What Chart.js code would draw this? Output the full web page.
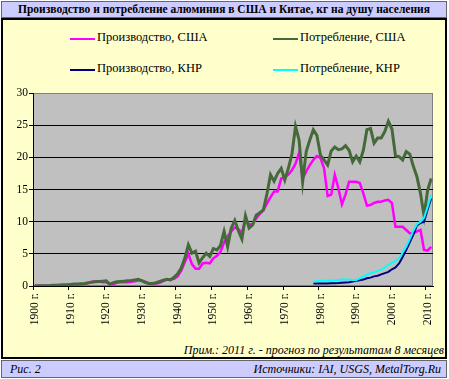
<!DOCTYPE html>
<html>
<head>
<meta charset="utf-8">
<script src="https://cdn.jsdelivr.net/npm/chart.js@4.4.1/dist/chart.umd.min.js"></script>
<style>
  html, body { margin: 0; padding: 0; background: #fff; }
  #wrap { position: relative; width: 449px; height: 379px; overflow: hidden; font-family: "Liberation Serif", "Times New Roman", serif; color: #000; }
  .box { position: absolute; box-sizing: border-box; }
  #title { left: 1px; top: 1px; width: 446px; height: 17px; background: #ccccff; border: 1px solid #666;
           font-weight: bold; font-size: 11.5px; line-height: 15px; text-align: center; white-space: nowrap; }
  #panel { left: 1px; top: 18px; width: 446px; height: 341px; background: #ffffcc; border: 2px solid #000; }
  #foot { left: 1px; top: 360px; width: 446px; height: 18px; background: #ccccff; border: 1px solid #666;
          font-style: italic; font-size: 12px; line-height: 16px; }
  #foot .l { position: absolute; left: 8px; top: 0; }
  #foot .r { position: absolute; right: 5px; top: 0; }
  #note { position: absolute; right: 5px; top: 343px; font-style: italic; font-size: 12px; white-space: nowrap; }
  canvas { position: absolute; left: 0; top: 0; }
  .lg { position: absolute; font-size: 12.5px; white-space: nowrap; }
  .lg i { position: absolute; left: -27px; width: 25px; height: 2px; top: 8px; }
</style>
</head>
<body>
<div id="wrap">
  <div class="box" id="title">Производство и потребление алюминия в США и Китае, кг на душу населения</div>
  <div class="box" id="panel"></div>
  <div id="legend"></div>
  <div id="note">Прим.: 2011 г. - прогноз по результатам 8 месяцев</div>
  <div class="box" id="foot"><span class="l">Рис. 2</span><span class="r">Источники: IAI, USGS, MetalTorg.Ru</span></div>
  <canvas id="chart" width="449" height="379"></canvas>
</div>
<script>
// годы 1900..2011
const years = [];
for (let y = 1900; y <= 2011; y++) years.push(y);

// производство, США (кг на душу)
const prodUSA = [
  0.02, 0.02, 0.03, 0.03, 0.04, 0.05, 0.06, 0.07, 0.1, 0.1,
  0.15, 0.15, 0.2, 0.25, 0.3, 0.45, 0.65, 0.75, 0.75, 0.6,
  0.6, 0.25, 0.3, 0.5, 0.6, 0.6, 0.6, 0.65, 0.75, 0.85,
  0.85, 0.65, 0.4, 0.35, 0.4, 0.5, 0.8, 1.0, 1.0, 1.1,
  1.5, 2.4, 3.7, 5.0, 3.4, 2.7, 2.7, 3.5, 3.6, 3.5,
  4.3, 4.7, 5.3, 6.8, 7.7, 8.5, 9.1, 8.8, 8.3, 10.3,
  9.6, 9.6, 10.5, 11.2, 11.8, 12.8, 13.8, 14.7, 14.7, 16.7,
  16.9, 17.3, 18.0, 19.0, 20.7, 16.7, 17.8, 18.8, 19.6, 20.2,
  19.9, 18.3, 14.0, 14.2, 17.3, 15.2, 12.7, 14.2, 16.2, 16.2,
  16.2, 16.0, 14.4, 12.5, 12.6, 12.9, 13.1, 13.1, 13.3, 13.4,
  12.9, 9.2, 9.2, 9.2, 8.7, 8.2, 8.2, 8.5, 8.7, 5.6,
  5.5, 6.1
];

// потребление, США
const consUSA = [
  0.05, 0.05, 0.05, 0.05, 0.05, 0.1, 0.1, 0.15, 0.2, 0.2,
  0.25, 0.3, 0.3, 0.35, 0.4, 0.5, 0.6, 0.65, 0.7, 0.75,
  0.8, 0.3, 0.5, 0.65, 0.7, 0.75, 0.8, 0.85, 0.95, 1.05,
  0.8, 0.55, 0.4, 0.4, 0.5, 0.7, 0.9, 1.05, 0.95, 1.35,
  1.9, 2.8, 4.3, 6.4, 5.1, 5.4, 3.6, 4.4, 5.1, 4.6,
  5.8, 5.6, 6.3, 8.5, 6.1, 9.0, 10.2, 8.6, 7.3, 10.9,
  9.0, 9.5, 11.0, 11.4, 11.8, 14.3, 17.3, 16.3, 17.5, 18.3,
  16.5, 18.3, 20.5, 24.8, 22.7, 16.2, 20.9, 22.7, 24.3, 23.4,
  20.3, 19.6, 18.8, 21.0, 21.6, 21.2, 21.3, 21.8, 21.1, 19.3,
  20.2, 19.3, 21.1, 24.3, 24.5, 22.2, 23.0, 23.0, 24.0, 25.6,
  24.4, 20.2, 20.1, 19.6, 20.9, 20.5, 18.6, 17.0, 14.4, 10.9,
  14.9, 16.7
];

// КНР, данные с 1978 г.
const chinaYears = years.filter(y => y >= 1978);
const prodChina = [
  0.4, 0.4, 0.4, 0.4, 0.4, 0.42, 0.44, 0.46, 0.5, 0.55,
  0.6, 0.7, 0.8, 0.9, 1.0, 1.2, 1.3, 1.5, 1.6, 1.8,
  2.0, 2.2, 2.6, 2.9, 3.5, 4.5, 5.6, 6.8, 8.0, 9.4,
  9.8, 10.0, 11.9, 13.6
];
const consChina = [
  0.7, 0.75, 0.8, 0.8, 0.8, 0.85, 0.9, 0.95, 1.0, 1.0,
  1.0, 0.95, 0.95, 1.2, 1.45, 1.75, 2.0, 2.15, 2.35, 2.55,
  2.85, 3.3, 3.6, 3.9, 4.3, 5.2, 6.1, 7.3, 8.6, 9.6,
  10.0, 10.6, 12.3, 14.1
];

const yTicks = [0, 5, 10, 15, 20, 25, 30];

function padChina(arr) {
  return years.map(y => (y < 1978 ? null : arr[chinaYears.indexOf(y)]));
}

const colors = {
  prodUSA: '#ff00ff',
  consUSA: '#46693a',
  prodChina: '#000080',
  consChina: '#00ffff'
};

const series = [
  { label: 'Производство, США', data: prodUSA, color: colors.prodUSA, width: 2.5, order: 4 },
  { label: 'Потребление, США', data: consUSA, color: colors.consUSA, width: 3, order: 3 },
  { label: 'Производство, КНР', data: padChina(prodChina), color: colors.prodChina, width: 2, order: 2 },
  { label: 'Потребление, КНР', data: padChina(consChina), color: colors.consChina, width: 2, order: 1 }
];

// легенда в две колонки
const legendPos = [[97, 30], [300, 30], [97, 61], [300, 61]];
const legendEl = document.getElementById('legend');
series.forEach((s, i) => {
  const d = document.createElement('div');
  d.className = 'lg';
  d.style.left = legendPos[i][0] + 'px';
  d.style.top = legendPos[i][1] + 'px';
  d.innerHTML = '<i style="background:' + s.color + '"></i>' + s.label;
  legendEl.appendChild(d);
});

const plotBg = {
  id: 'plotBg',
  beforeDraw(chart) {
    const { ctx, chartArea: a } = chart;
    ctx.save();
    ctx.fillStyle = '#c0c0c0';
    ctx.fillRect(a.left, a.top, a.width, a.height);
    ctx.strokeStyle = '#808080';
    ctx.lineWidth = 1;
    ctx.strokeRect(a.left + 0.5, a.top + 0.5, a.width - 1, a.height - 1);
    ctx.restore();
  }
};

const tickFont = { family: 'Liberation Serif', size: 11.5 };

new Chart(document.getElementById('chart'), {
  type: 'line',
  data: {
    labels: years,
    datasets: series.map(s => ({
      label: s.label,
      data: s.data,
      borderColor: s.color,
      backgroundColor: s.color,
      borderWidth: s.width,
      pointRadius: 0,
      tension: 0,
      fill: false,
      order: s.order
    }))
  },
  options: {
    responsive: false,
    animation: false,
    devicePixelRatio: 1,
    layout: { padding: { top: 93, right: 16, bottom: 0, left: 0 } },
    plugins: {
      legend: { display: false },
      tooltip: { enabled: false }
    },
    scales: {
      x: {
        type: 'category',
        offset: true,
        grid: {
          offset: true,
          drawOnChartArea: false,
          tickLength: 4,
          color: c => (c.index % 10 === 0 ? '#000' : 'rgba(0,0,0,0)')
        },
        border: { color: '#000' },
        ticks: {
          autoSkip: false,
          maxRotation: 90,
          minRotation: 90,
          padding: 3,
          color: '#000',
          font: tickFont,
          callback: (v, i) => (i % 10 === 0 ? years[i] + ' г.' : '')
        },
        afterFit: s => { s.height = 93; }
      },
      y: {
        min: 0,
        max: 30,
        afterBuildTicks: s => { s.ticks = yTicks.map(v => ({ value: v })); },
        grid: {
          tickLength: 4,
          tickColor: '#000',
          color: c => (c.tick && c.tick.value === 30 ? '#808080' : '#000')
        },
        border: { color: '#000' },
        ticks: { padding: 1, color: '#000', font: tickFont },
        afterFit: s => { s.width = 33; }
      }
    }
  },
  plugins: [plotBg]
});
</script>
</body>
</html>
